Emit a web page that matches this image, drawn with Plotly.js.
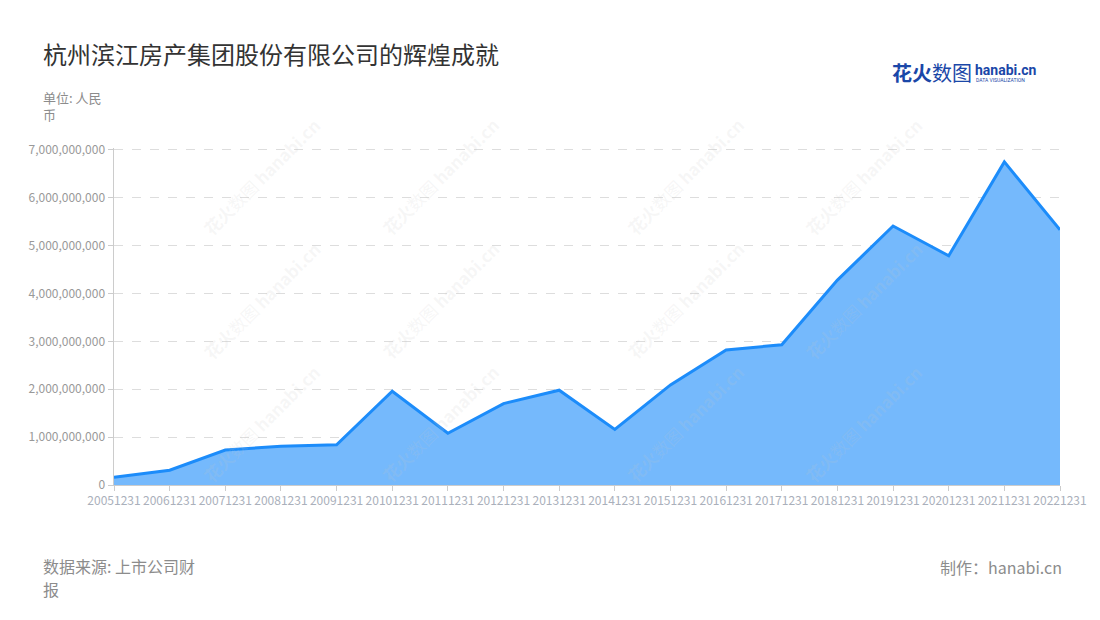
<!DOCTYPE html>
<html>
<head>
<meta charset="utf-8">
<script src="https://cdn.plot.ly/plotly-3.0.1.min.js"></script>
<style>
  html, body { margin: 0; padding: 0; background: #fff; }
  #myGraph { width: 1100px; height: 620px; }
</style>
</head>
<body>
<div id="myGraph"></div>
<script>
// 报告期 (年末)
let periods = [
    '20051231', '20061231', '20071231', '20081231', '20091231', '20101231',
    '20111231', '20121231', '20131231', '20141231', '20151231', '20161231',
    '20171231', '20181231', '20191231', '20201231', '20211231', '20221231'
];

// 数值 (人民币)
let values = [
    0.16e9, 0.31e9, 0.73e9, 0.81e9, 0.84e9, 1.96e9,
    1.08e9, 1.70e9, 1.98e9, 1.16e9, 2.09e9, 2.82e9,
    2.93e9, 4.28e9, 5.41e9, 4.79e9, 6.75e9, 5.33e9
];

let yTicks = [0, 1e9, 2e9, 3e9, 4e9, 5e9, 6e9, 7e9];

let cjk = '"Noto Sans CJK SC", "Noto Sans", sans-serif';

// 绘图区 (像素)
let L = 114, R = 1060, T = 148, B = 485;
let px = function (x) { return (x - L) / (R - L); };
let py = function (y) { return (B - y) / (B - T); };

let trace1 = {
    type: 'scatter',
    mode: 'lines',
    x: periods,
    y: values,
    fill: 'tozeroy',
    fillcolor: 'rgba(117,185,252,1)',
    line: {
        color: '#1c8cfa',
        width: 3
    },
    hoverinfo: 'x+y'
};

// 水印
let marks = [];
[195, 440, 685, 930].forEach(function (mx) {
    [110, 300, 490].forEach(function (my) {
        marks.push({
            xref: 'paper', yref: 'paper',
            x: px(mx), y: py(my),
            text: '<b>花火</b>数图 <b>hanabi.cn</b>',
            showarrow: false,
            textangle: -45,
            font: { family: cjk, size: 17, color: 'rgba(200,200,200,0.16)' }
        });
    });
});

function note(x, y, text, size, anchor) {
    return {
        xref: 'paper', yref: 'paper',
        xanchor: anchor || 'left', yanchor: 'middle',
        x: px(x), y: py(y),
        text: text,
        showarrow: false,
        borderpad: 0,
        font: { family: cjk, size: size, color: '#8c8c8c' }
    };
}

let notes = [
    note(42, 97, '单位: 人民', 13),
    note(42, 114, '币', 13),
    note(42, 566, '数据来源: 上市公司财', 16),
    note(42, 589, '报', 16),
    note(1063, 567, '制作：hanabi.cn', 16, 'right'),
    {
        xref: 'paper', yref: 'paper', xanchor: 'left', yanchor: 'middle',
        x: px(890), y: py(72),
        text: '<b>花火</b>数图',
        showarrow: false,
        font: { family: cjk, size: 20, color: '#1a47a8' }
    },
    {
        xref: 'paper', yref: 'paper', xanchor: 'left', yanchor: 'middle',
        x: px(973), y: py(70),
        text: '<b>hanabi.cn</b>',
        showarrow: false,
        font: { family: 'Roboto, sans-serif', size: 14, color: '#1a47a8' }
    },
    {
        xref: 'paper', yref: 'paper', xanchor: 'left', yanchor: 'middle',
        x: px(974), y: py(80),
        text: 'DATA VISUALIZATION',
        showarrow: false,
        font: { family: 'Roboto, sans-serif', size: 5, color: '#1a47a8' }
    }
];

let layout = {
    width: 1100,
    height: 620,
    paper_bgcolor: '#ffffff',
    plot_bgcolor: '#ffffff',
    showlegend: false,
    font: { family: cjk, color: '#999' },
    margin: { l: L, r: 1100 - R, t: T, b: 620 - B },
    title: {
        text: '杭州滨江房产集团股份有限公司的辉煌成就',
        x: 43 / 1100,
        xanchor: 'left',
        y: 1 - 56 / 620,
        yanchor: 'middle',
        font: { family: cjk, size: 24, color: '#333' }
    },
    xaxis: {
        type: 'category',
        range: [0, periods.length - 1],
        showgrid: false,
        showline: true,
        linecolor: '#cccccc',
        linewidth: 1,
        ticks: 'outside',
        ticklen: 5,
        tickcolor: '#cccccc',
        tickfont: { family: cjk, size: 12, color: '#aab0bb' },
        tickangle: 0,
        automargin: false
    },
    yaxis: {
        range: [0, 7.04e9],
        tickvals: yTicks,
        tickformat: ',d',
        showgrid: true,
        gridcolor: '#dddddd',
        griddash: 'dash',
        gridwidth: 1,
        zeroline: false,
        showline: true,
        linecolor: '#cccccc',
        linewidth: 1.5,
        ticks: 'outside',
        ticklen: 5,
        tickcolor: '#cccccc',
        tickfont: { family: cjk, size: 12, color: '#999' },
        automargin: false
    },
    annotations: marks.concat(notes)
};

Plotly.newPlot('myGraph', [trace1], layout, { displayModeBar: false, staticPlot: true });
</script>
</body>
</html>
